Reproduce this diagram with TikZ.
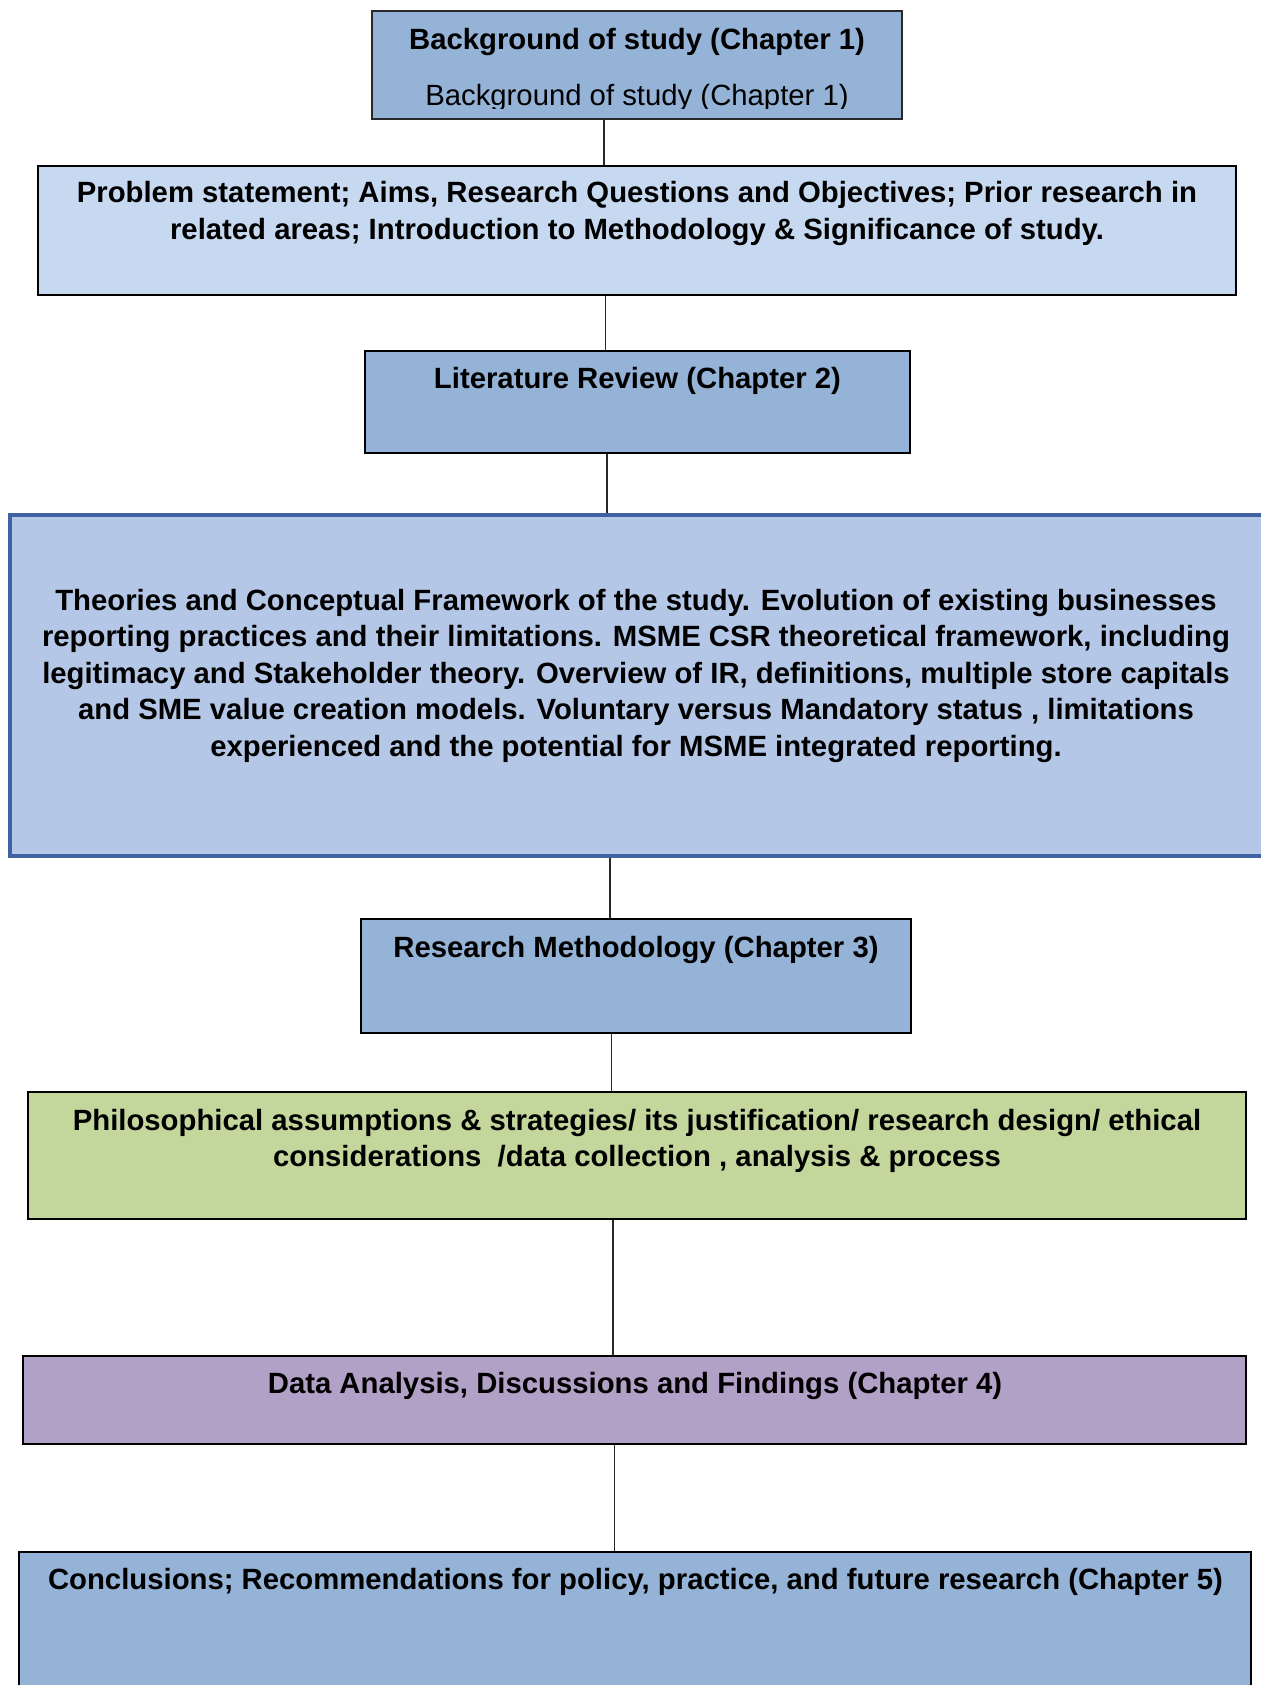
\documentclass[tikz,border=0pt]{standalone}
\usepackage{fontspec}
\setmainfont{Liberation Sans}
\usetikzlibrary{fit}

\definecolor{midblue}{RGB}{149,179,215}
\definecolor{paleblue}{RGB}{198,217,241}
\definecolor{softblue}{RGB}{180,199,231}
\definecolor{edgeblue}{RGB}{62,98,162}
\definecolor{olivegreen}{RGB}{195,214,155}
\definecolor{lilac}{RGB}{178,161,199}
\definecolor{linegray}{RGB}{40,40,40}

\tikzset{
  stagebox/.style={draw=black, line width=1pt, inner sep=0pt, rectangle},
  headbox/.style={stagebox, draw=linegray, line width=0.8pt},
  theorybox/.style={stagebox, draw=edgeblue, line width=1.6pt},
  % the base anchor of a multi-line label sits on its last line
  label/.style={anchor=base, inner sep=0pt, align=center,
    font=\fontsize{14.65}{18.25}\selectfont\bfseries},
  plainlabel/.style={label, font=\fontsize{14.65}{18.25}\selectfont},
  link/.style={draw=linegray, line width=0.7pt}
}

\begin{document}
\begin{tikzpicture}[x=0.5pt, y=-0.5pt]
\useasboundingbox (0,0) rectangle (1260,1685);

% stage boxes, top to bottom
\node[headbox, fill=midblue, fit={(372,11) (902,119)}] (b1) {};
\node[stagebox, fill=paleblue, fit={(38,166) (1236,295)}] (b2) {};
\node[stagebox, fill=midblue, fit={(365,351) (910,453)}] (b3) {};
\node[theorybox, fill=softblue, fit={(10,515) (1275,856)}] (b4) {};
\node[stagebox, fill=midblue, fit={(361,919) (911,1033)}] (b5) {};
\node[stagebox, fill=olivegreen, fit={(28,1092) (1246,1219)}] (b6) {};
\node[stagebox, fill=lilac, fit={(23,1356) (1246,1444)}] (b7) {};
\node[stagebox, fill=midblue, fit={(19,1552) (1251,1700)}] (b8) {};

% connector positions
\coordinate (k1) at (604,0);
\coordinate (k2) at (605.5,0);
\coordinate (k3) at (607,0);
\coordinate (k4) at (610,0);
\coordinate (k5) at (611.5,0);
\coordinate (k6) at (613,0);
\coordinate (k7) at (614.5,0);

\draw[link] (b1.south -| k1) -- (b2.north -| k1);
\draw[link] (b2.south -| k2) -- (b3.north -| k2);
\draw[link] (b3.south -| k3) -- (b4.north -| k3);
\draw[link] (b4.south -| k4) -- (b5.north -| k4);
\draw[link] (b5.south -| k5) -- (b6.north -| k5);
\draw[link] (b6.south -| k6) -- (b7.north -| k6);
\draw[link] (b7.south -| k7) -- (b8.north -| k7);

% texts
\node[label] (t1) at (637,50) {Background of study (Chapter 1)};
\begin{scope}
  \clip (373,12) rectangle (901,108.5);
  \node[plainlabel] (t1b) at (637,106) {Background of study (Chapter 1)};
\end{scope}

\node[label] (t2) at (637,239.5) {Problem statement; Aims, Research Questions and Objectives; Prior research in\\
related areas; Introduction to Methodology \& Significance of study.};

\node[label] (t3) at (637.5,388) {Literature Review (Chapter 2)};

\node[label] (t4) at (636,756) {Theories and Conceptual Framework of the study. Evolution of existing businesses\\
reporting practices and their limitations. MSME CSR theoretical framework, including\\
legitimacy and Stakeholder theory. Overview of IR, definitions, multiple store capitals\\
and SME value creation models. Voluntary versus Mandatory status , limitations\\
experienced and the potential for MSME integrated reporting.};

\node[label] (t5) at (636,957) {Research Methodology (Chapter 3)};

\node[label] (t6) at (637,1166.5) {Philosophical assumptions \& strategies/ its justification/ research design/ ethical\\
considerations\ \ /data collection , analysis \& process};

\node[label] (t7) at (635,1393) {Data Analysis, Discussions and Findings (Chapter 4)};

\node[label] (t8) at (635.5,1589) {Conclusions; Recommendations for policy, practice, and future research (Chapter 5)};
\end{tikzpicture}
\end{document}
